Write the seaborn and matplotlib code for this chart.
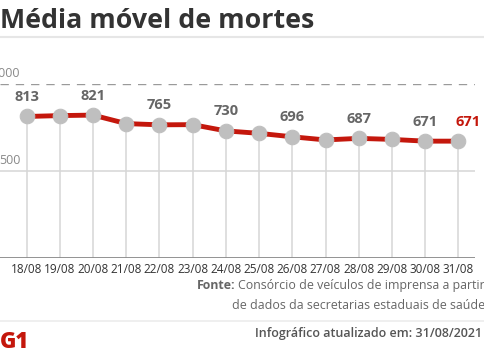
import matplotlib
matplotlib.use('Agg')
import matplotlib.pyplot as plt
import seaborn as sns
import numpy as np

dates = ['18/08', '19/08', '20/08', '21/08', '22/08', '23/08', '24/08',
         '25/08', '26/08', '27/08', '28/08', '29/08', '30/08', '31/08']
deaths = [813, 818, 821, 772, 765, 766, 730, 716, 696, 678, 687, 681, 671, 671]
labeled = [0, 2, 4, 6, 8, 10, 12]
yticks = [500, 1000]

sns.set_theme(style='white')
plt.rcParams['font.family'] = ['Open Sans', 'DejaVu Sans']

red = '#c4170c'
grey_txt = '#666666'
W, H = 485, 360
fig = plt.figure(figsize=(W / 100, H / 100), dpi=100)
fig.patch.set_facecolor('white')

# axes box in pixels: x 0..475, y=0 at 257.7, y=1000 at 84
ax = fig.add_axes([0, 1 - 257.7 / H, 475 / W, (257.7 - 84) / H])
x = np.arange(len(dates))

ax.vlines(x, 0, deaths, color='#d6d6d6', lw=1.1, zorder=1)
ax.axhline(500, color='#d6d6d6', lw=1.1, zorder=1)
ax.axhline(1000, color='#9a9a9a', lw=1.0, ls=(0, (6, 5)), zorder=1)
ax.axhline(0, color='#8a8a8a', lw=1.3, zorder=2)

sns.lineplot(x=x, y=deaths, ax=ax, color=red, linewidth=3.5, marker='o',
             markersize=10.5, markerfacecolor='#bfbfbf', markeredgecolor='#bfbfbf',
             zorder=3)

for i in labeled:
    ax.annotate(str(deaths[i]), (x[i], deaths[i]), xytext=(0, 9),
                textcoords='offset points', ha='center', va='bottom',
                fontsize=10.5, fontweight='bold', color=grey_txt)
ax.annotate(str(deaths[-1]), (x[-1], deaths[-1]), xytext=(7, 9),
            textcoords='offset points', ha='center', va='bottom',
            fontsize=10.5, fontweight='bold', color=red)

for v in yticks:
    ax.annotate(str(v), (0, v), xycoords=('axes fraction', 'data'),
                xytext=(14.5, 3), textcoords='offset points', ha='right',
                va='bottom', fontsize=9, color='#888888')

ax.set_xlim(-0.8, 13.5)
ax.set_ylim(0, 1000)
ax.set_xticks(x)
ax.set_xticklabels(dates, fontsize=8.5, color='#333333')
ax.tick_params(axis='x', length=0, pad=4)
ax.set_yticks([])
sns.despine(ax=ax, left=True, bottom=True, top=True, right=True)
ax.set_facecolor('none')

# title and separators
fig.text(0, 1 - 28 / H, 'Média móvel de mortes', fontsize=19.3,
         fontweight='bold', color='#333333', ha='left', va='baseline')
fig.add_artist(plt.Line2D([0, 1], [1 - 37 / H] * 2, color='#e6e6e6', lw=1.5))
fig.add_artist(plt.Line2D([0, 1], [1 - 320.5 / H] * 2, color='#ececec', lw=1.2))

# source
src1 = fig.text(485 / W, 1 - 289 / H, 'Consórcio de veículos de imprensa a partir',
                fontsize=8.9, color=grey_txt, ha='right', va='baseline')
fig.text(485 / W, 1 - 309 / H, 'de dados da secretarias estaduais de saúde',
         fontsize=8.9, color=grey_txt, ha='right', va='baseline')
fig.canvas.draw()
bb = src1.get_window_extent(fig.canvas.get_renderer())
fig.text((bb.x0 - 3) / W, 1 - 289 / H, 'Fonte:', fontsize=8.9, fontweight='bold',
         color=grey_txt, ha='right', va='baseline')

fig.text(482 / W, 1 - 337 / H, 'Infográfico atualizado em: 31/08/2021',
         fontsize=9, fontweight='semibold', color='#555555', ha='right',
         va='baseline')
fig.text(0, 1 - 348 / H, 'G1', fontsize=16, fontweight='heavy', color=red,
         ha='left', va='baseline')

fig.savefig('out.png', dpi=100, facecolor='white')
